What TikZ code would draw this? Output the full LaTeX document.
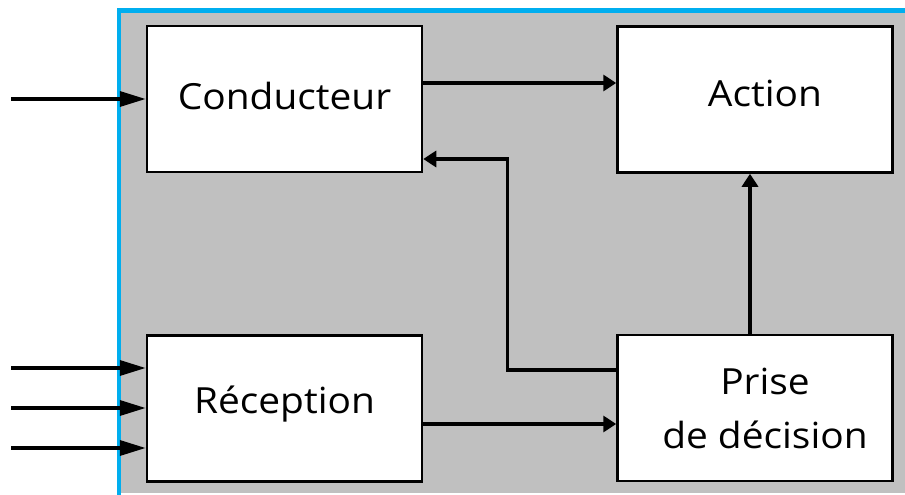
\documentclass[tikz,border=0pt]{standalone}
\usepackage{fontspec}
\setmainfont[FakeStretch=1.08]{Open Sans}
\usetikzlibrary{arrows.meta}
\definecolor{panelgray}{RGB}{192,192,192}
\definecolor{edgeblue}{RGB}{0,174,239}
\begin{document}
\begin{tikzpicture}[x=1pt,y=-1pt,
  blk/.style={draw=black,line width=2.5pt,fill=white,inner sep=0pt,
    minimum width=275pt,minimum height=146pt,align=center,
    font=\fontsize{36}{54}\selectfont},
  flow/.style={line width=3.3pt,-{Triangle[length=13pt,width=16pt]}},
  inflow/.style={line width=3.5pt,-{Triangle[length=26pt,width=15pt]}}]
\useasboundingbox (0,0) rectangle (905,495);
\fill[panelgray] (119,10) rectangle (905,493);
\draw[edgeblue,line width=4.5pt] (119,495) -- (119,10.5) -- (905,10.5);
\node[blk,text height=21pt,text depth=0pt] (cond) at (284.5,99) {Conducteur};
\node[blk,text height=14pt,text depth=0pt] (act) at (755,99.5) {\hspace*{20pt}Action};
\node[blk,text height=10pt,text depth=0pt] (rec) at (284.5,408.5) {Réception};
\node[blk] (dec) at (755,408) {\hspace*{20pt}Prise\\\hspace*{20pt}de décision};
\coordinate (in1) at (11,99);
\coordinate (in2) at (11,368);
\coordinate (in3) at (11,408);
\coordinate (in4) at (11,448);
\draw[inflow] (in1) -- (in1 -| cond.west);
\draw[inflow] (in2) -- (in2 -| rec.west);
\draw[inflow] (in3) -- (in3 -| rec.west);
\draw[inflow] (in4) -- (in4 -| rec.west);
\draw[flow] ([yshift=16pt]cond.east) -- ([yshift=16.5pt]act.west);
\draw[flow] ([yshift=-15.5pt]rec.east) -- ([yshift=-16pt]dec.west);
\draw[flow] ([xshift=-5pt]dec.north) -- ([xshift=-5pt]act.south);
\draw[flow] ([yshift=38pt]dec.west) -| ([xshift=84pt,yshift=-60pt]cond.east) -- ([yshift=-60pt]cond.east);
\end{tikzpicture}
\end{document}
